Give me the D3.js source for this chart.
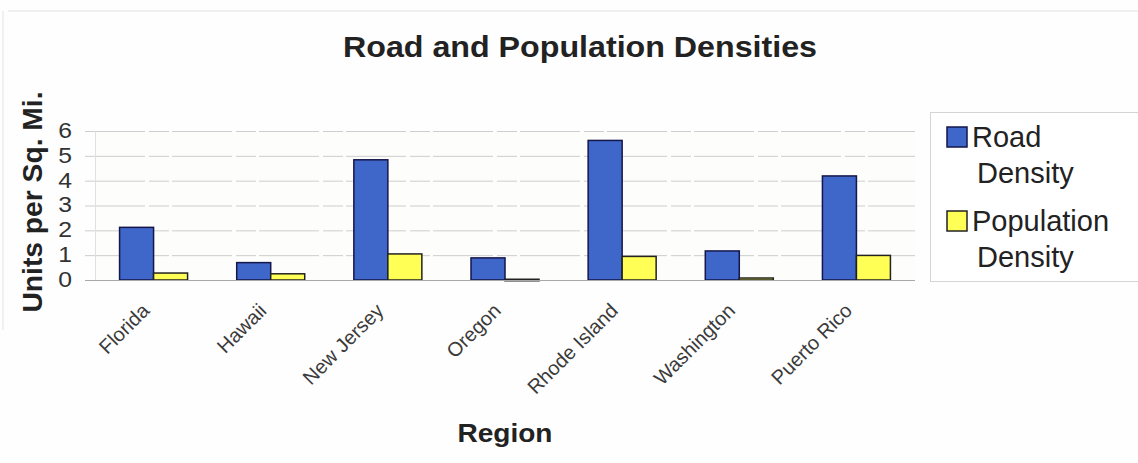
<!DOCTYPE html>
<html>
<head>
<meta charset="utf-8">
<script src="https://cdn.jsdelivr.net/npm/d3@7"></script>
<style>
  html, body { margin: 0; padding: 0; background: #fefefe; }
  svg { display: block; font-family: "Liberation Sans", Arial, sans-serif; }
</style>
</head>
<body>
<svg id="chart" width="1138" height="463"></svg>
<script>
// Chart data
const regions = ["Florida", "Hawaii", "New Jersey", "Oregon", "Rhode Island", "Washington", "Puerto Rico"];
const roadDensity = [2.12, 0.70, 4.84, 0.89, 5.62, 1.17, 4.19];
const populationDensity = [0.28, 0.25, 1.05, 0.03, 0.95, 0.08, 0.99];
const seriesNames = ["Road Density", "Population Density"];
const yTicks = [0, 1, 2, 3, 4, 5, 6];

const svg = d3.select("#chart");
const W = 1138, H = 463;
const plot = { left: 95, right: 915, top: 131, bottom: 280 };

const colors = { road: "#3f66c9", pop: "#ffff55" };

// faint outer frame lines
svg.append("line").attr("x1", 8).attr("x2", W).attr("y1", 11).attr("y2", 11)
  .attr("stroke", "#e2e2e2").attr("stroke-width", 1);
svg.append("line").attr("x1", 3).attr("x2", 3).attr("y1", 11).attr("y2", 330)
  .attr("stroke", "#e4e4e4").attr("stroke-width", 1);

const x = d3.scaleBand().domain(regions).range([plot.left, plot.right]).padding(0);
const y = d3.scaleLinear().domain([0, 6]).range([plot.bottom, plot.top]);

// plot area background
svg.append("rect")
  .attr("x", plot.left).attr("y", plot.top)
  .attr("width", plot.right - plot.left).attr("height", plot.bottom - plot.top)
  .attr("fill", "#fdfdfb");

// gridlines
svg.append("g").selectAll("line").data(yTicks.slice(1)).join("line")
  .attr("x1", plot.left - 10).attr("x2", plot.right)
  .attr("y1", d => y(d) + 0.5).attr("y2", d => y(d) + 0.5)
  .attr("stroke", "#cdcdcd").attr("stroke-width", 1)
  .attr("stroke-dasharray", "60,4,20,3");

// left axis line
svg.append("line")
  .attr("x1", plot.left + 0.5).attr("x2", plot.left + 0.5)
  .attr("y1", plot.top).attr("y2", plot.bottom)
  .attr("stroke", "#e0e0e0");

// y axis tick labels (slightly widened digits)
const yAxis = d3.axisLeft(y).tickValues(yTicks).tickFormat(d3.format("d")).tickSize(0).tickPadding(20);
const yg = svg.append("g").attr("transform", `translate(${plot.left},0)`).call(yAxis);
yg.select(".domain").remove();
yg.selectAll("text")
  .attr("font-family", "Liberation Sans, Arial, sans-serif")
  .attr("font-size", 21.5).attr("fill", "#333").attr("dy", "0.3em")
  .attr("transform", "scale(1.15,1)");

// bars
const barW = 34;
const groups = svg.append("g").selectAll("g").data(regions).join("g")
  .attr("transform", d => `translate(${x(d) + x.bandwidth() / 2},0)`);

groups.append("rect")
  .attr("x", -barW).attr("width", barW)
  .attr("y", (d, i) => y(roadDensity[i]))
  .attr("height", (d, i) => y(0) - y(roadDensity[i]))
  .attr("fill", colors.road).attr("stroke", "#15164a").attr("stroke-width", 1.5);

groups.append("rect")
  .attr("x", 0).attr("width", barW)
  .attr("y", (d, i) => y(populationDensity[i]))
  .attr("height", (d, i) => Math.max(1.5, y(0) - y(populationDensity[i])))
  .attr("fill", colors.pop).attr("stroke", "#222222").attr("stroke-width", 1.5);

// zero axis line
svg.append("line")
  .attr("x1", plot.left - 10).attr("x2", plot.right)
  .attr("y1", y(0) + 0.5).attr("y2", y(0) + 0.5)
  .attr("stroke", "#a8a8a8").attr("stroke-width", 1);

// category labels
svg.append("g").selectAll("text").data(regions).join("text")
  .attr("transform", d => `translate(${x(d) + x.bandwidth() / 2 - 3},312) rotate(-45)`)
  .attr("text-anchor", "end")
  .attr("font-size", 20).attr("fill", "#3a3a3a")
  .text(d => d);

// title
svg.append("text")
  .attr("x", 580).attr("y", 57).attr("text-anchor", "middle")
  .attr("font-size", 29).attr("font-weight", "bold").attr("fill", "#222")
  .attr("textLength", 474).attr("lengthAdjust", "spacingAndGlyphs")
  .text("Road and Population Densities");

// axis titles
svg.append("text")
  .attr("transform", "translate(42,202) rotate(-90)")
  .attr("text-anchor", "middle")
  .attr("font-size", 28).attr("font-weight", "bold").attr("fill", "#222")
  .attr("textLength", 221).attr("lengthAdjust", "spacingAndGlyphs")
  .text("Units per Sq. Mi.");

svg.append("text")
  .attr("x", 505).attr("y", 442).attr("text-anchor", "middle")
  .attr("font-size", 26).attr("font-weight", "bold").attr("fill", "#222")
  .attr("textLength", 95).attr("lengthAdjust", "spacingAndGlyphs")
  .text("Region");

// legend
const lg = svg.append("g");
lg.append("rect").attr("x", 930.5).attr("y", 112.5).attr("width", 220).attr("height", 169)
  .attr("fill", "#ffffff").attr("stroke", "#d4d4d4").attr("stroke-width", 1);

const legendItems = [
  { name: seriesNames[0], lines: ["Road", "Density"], color: colors.road, stroke: "#15164a" },
  { name: seriesNames[1], lines: ["Population", "Density"], color: colors.pop, stroke: "#222" }
];
const li = lg.selectAll("g").data(legendItems).join("g")
  .attr("transform", (d, i) => `translate(0,${i * 84})`);
li.append("rect").attr("x", 947).attr("y", 127).attr("width", 20).attr("height", 20)
  .attr("fill", d => d.color).attr("stroke", d => d.stroke).attr("stroke-width", 1.5);
li.append("text")
  .attr("font-size", 29).attr("fill", "#222")
  .selectAll("tspan").data(d => d.lines).join("tspan")
  .attr("x", (d, i) => i === 0 ? 972 : 977)
  .attr("y", (d, i) => 147 + i * 36)
  .text(d => d);
</script>
</body>
</html>
